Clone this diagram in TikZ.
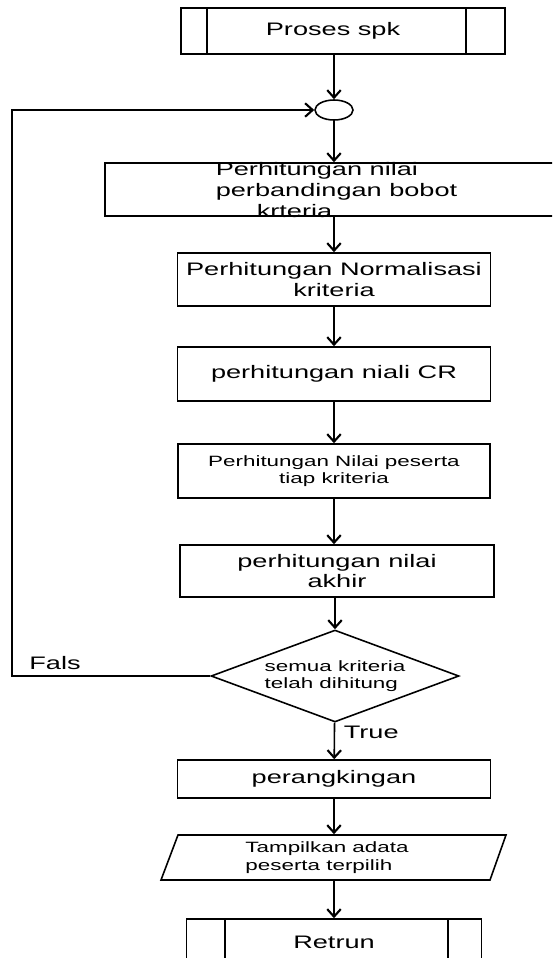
\documentclass[tikz,border=0pt]{standalone}
\usepackage{fontspec}
\setmainfont[FakeStretch=1.5]{Liberation Sans}
\usetikzlibrary{shapes.geometric,arrows.meta}
\newcommand{\boxfont}{\fontsize{10.3pt}{11.7pt}\selectfont}
\newcommand{\notefont}{\fontsize{8.5pt}{10pt}\selectfont}

\begin{document}
\begin{tikzpicture}[x=0.02cm,y=-0.02cm,line width=0.9pt,
    proc/.style={draw,rectangle,inner sep=0pt,font=\boxfont,align=center},
    flow/.style={-{Straight Barb[length=1.5mm,width=2.7mm,line width=1.2pt]}},
    lbl/.style={font=\boxfont,inner sep=0pt}]
            \useasboundingbox (0,0) rectangle (552,958);
            \clip (0,0) rectangle (552,958);

            % Marking start by subprocess box
            \draw (343,31) node [proc,minimum width=6.48cm,minimum height=0.92cm] (start) {Proses spk\hspace{0.4cm}};%
            \draw (207,8) -- (207,54);%
            \draw (466,8) -- (466,54);%

            % Marking join point by ellipse
            \draw (334,110) node [draw,ellipse,inner sep=0pt,minimum width=0.76cm,minimum height=0.4cm] (join) {};%

            % Marking process boxes
            \draw (332.5,189.5) node [proc,minimum width=9.1cm,minimum height=1.06cm] (bobot) {};%
            \draw (215,190) node [lbl,anchor=west,align=left] (bobottxt) {Perhitungan nilai\\perbandingan bobot\\\hspace*{0.82cm}krteria};%
            \draw (334,279.5) node [proc,minimum width=6.26cm,minimum height=1.06cm] (norm) {Perhitungan Normalisasi\\kriteria};%
            \draw (334,374) node [proc,minimum width=6.26cm,minimum height=1.08cm] (cr) {perhitungan niali CR};%
            \draw (334,471) node [proc,font=\notefont,minimum width=6.24cm,minimum height=1.08cm] (peserta) {Perhitungan Nilai peserta\\tiap kriteria};%
            \draw (337,571) node [proc,minimum width=6.28cm,minimum height=1.04cm] (akhir) {perhitungan nilai\\akhir};%

            % Marking decision by diamond
            \draw (335,676) node [draw,diamond,aspect=2.7,inner sep=0pt,font=\notefont,align=left,minimum width=4.96cm,minimum height=1.84cm] (check) {semua kriteria\\telah dihitung};%
            \draw (55,663) node [lbl] (fals) {Fals};%
            \draw (343,732) node [lbl,anchor=west] (true) {True};%

            % Marking ranking, output and return
            \draw (334,779) node [proc,minimum width=6.26cm,minimum height=0.76cm] (rank) {perangkingan};%
            \draw (178,835) -- (506,835) -- (490,880) -- (161,880) -- cycle;%
            \draw (327,857.5) node [lbl,font=\notefont,align=left,minimum height=0.9cm] (show) {Tampilkan adata\\peserta terpilih};%
            \draw (334,942) node [proc,minimum width=5.9cm,minimum height=0.92cm] (ret) {Retrun};%
            \draw (225,919) -- (225,965);%
            \draw (448,919) -- (448,965);%

            % Drawing flow lines
            \draw [flow] (join |- start.south) -- (join);%
            \draw [flow] (join) -- (join |- bobot.north);%
            \draw [flow] (norm |- bobot.south) -- (norm);%
            \draw [flow] (norm) -- (cr);%
            \draw [flow] (cr) -- (peserta);%
            \draw [flow] (peserta) -- (peserta |- akhir.north);%
            \draw [flow] (check |- akhir.south) -- (check);%
            \draw [flow] (check) -- (rank);%
            \draw [flow] (rank) -- (rank.south |- show.north);%
            \draw [flow] (ret |- show.south) -- (ret);%

            % Drawing loop back line
            \coordinate (loopc) at (12,110);%
            \draw [flow] (check.west) -| (loopc) -- (join.west);%
\end{tikzpicture}
\end{document}
